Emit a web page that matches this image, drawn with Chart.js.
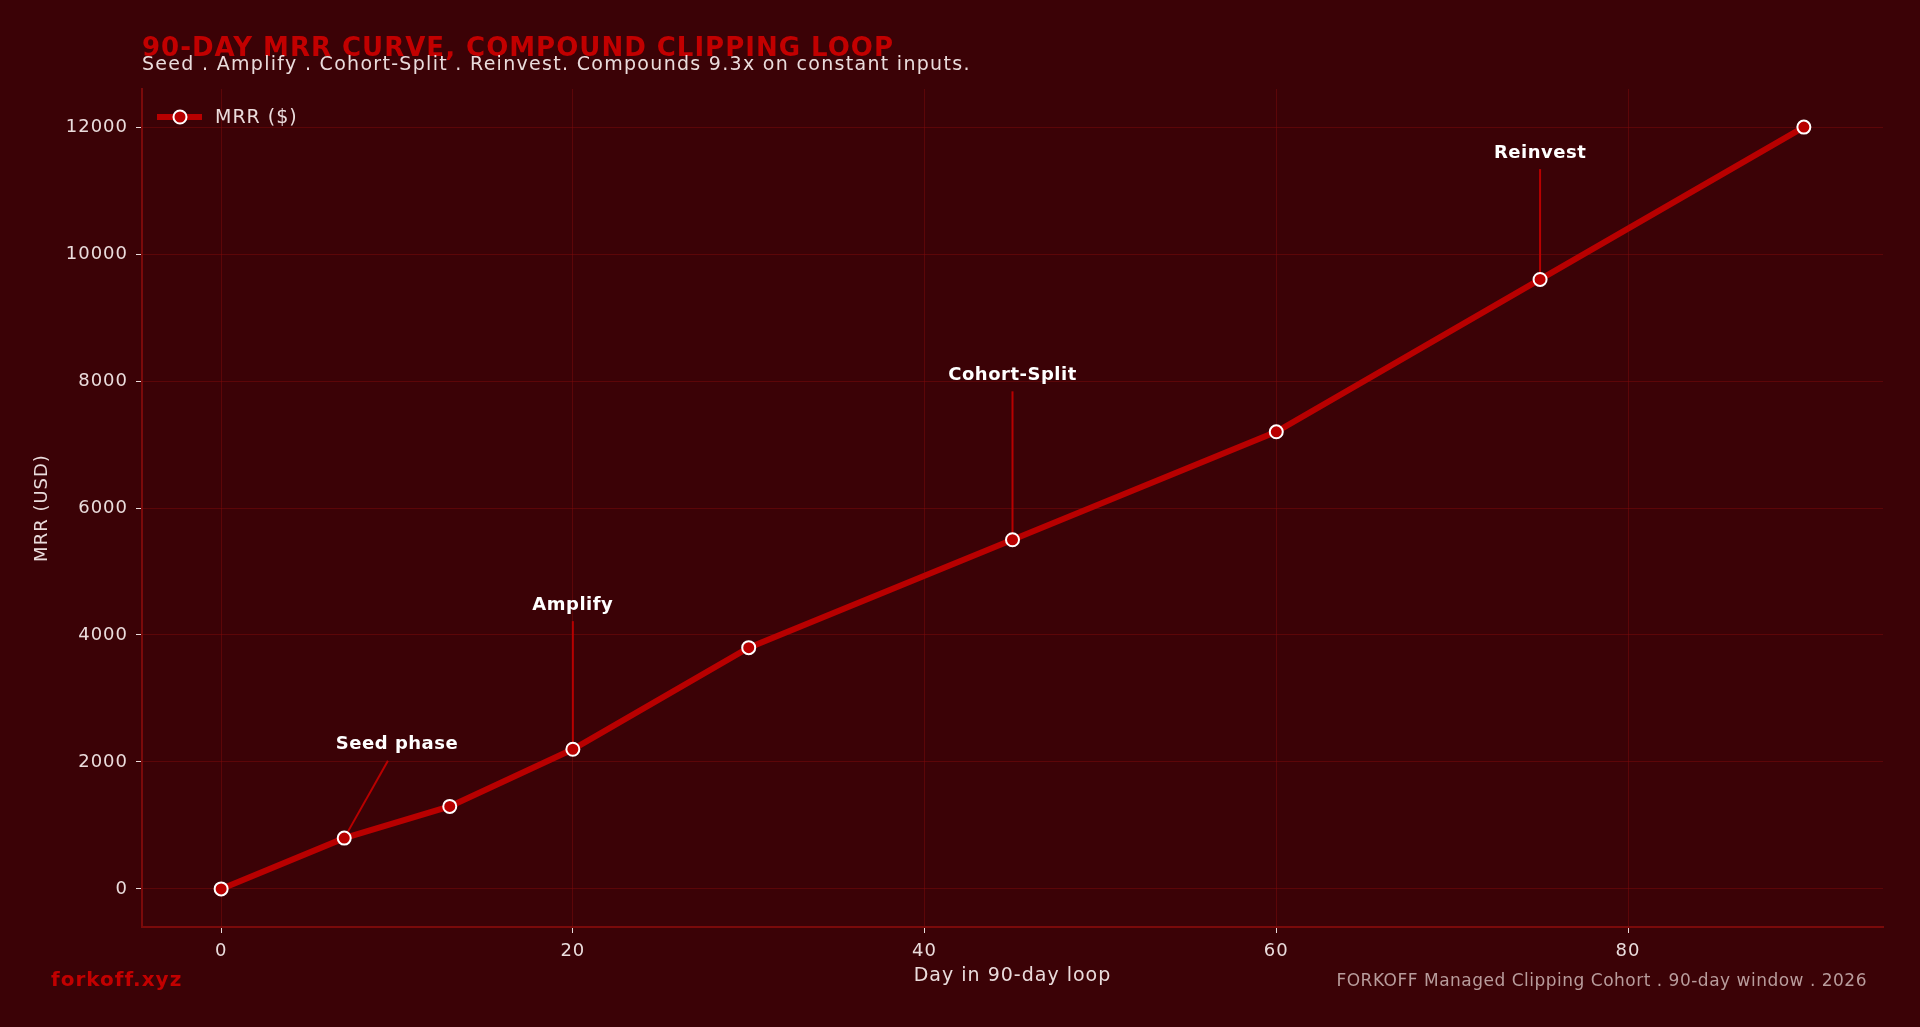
<!DOCTYPE html>
<html>
<head>
<meta charset="utf-8">
<script src="https://cdn.jsdelivr.net/npm/chart.js@4.4.1/dist/chart.umd.min.js"></script>
<style>
  html, body { margin: 0; padding: 0; background: #3b0206; }
  #wrap { width: 1920px; height: 1027px; position: relative; }
</style>
</head>
<body>
<div id="wrap"><canvas id="mrrChart"></canvas></div>
<script>
// Data
const days = [0, 7, 13, 20, 30, 45, 60, 75, 90];
const mrr = [0, 800, 1300, 2200, 3800, 5500, 7200, 9600, 12000];
const xTicks = [0, 20, 40, 60, 80];
const yTicks = [0, 2000, 4000, 6000, 8000, 10000, 12000];

// Callouts: point (x, y) and label centre (tx, ty), in data units
const calloutLabels = ['Seed phase', 'Amplify', 'Cohort-Split', 'Reinvest'];
const calloutX = [7, 20, 45, 75];
const calloutY = [800, 2200, 5500, 9600];
const calloutTx = [10, 20, 45, 75];
const calloutTy = [2270, 4470, 8090, 11590];

const BG = '#3b0206';
const RED = '#b80000';
const TEXT = '#eadcdc';
const FONT = "'DejaVu Sans', sans-serif";

const decorPlugin = {
  id: 'decor',
  beforeLayout(chart) {
    chart.ctx.letterSpacing = '1px';
  },
  beforeDraw(chart) {
    const ctx = chart.ctx;
    ctx.letterSpacing = '1px';
    ctx.save();
    ctx.fillStyle = BG;
    ctx.fillRect(0, 0, chart.width, chart.height);
    ctx.restore();
  },
  beforeDatasetsDraw(chart) {
    // leader lines for the callouts
    const ctx = chart.ctx;
    const xs = chart.scales.x, ys = chart.scales.y;
    ctx.save();
    ctx.strokeStyle = RED;
    ctx.lineWidth = 2;
    calloutLabels.forEach((lab, i) => {
      const px = xs.getPixelForValue(calloutX[i]);
      const py = ys.getPixelForValue(calloutY[i]);
      const tx = xs.getPixelForValue(calloutTx[i]);
      const ty = ys.getPixelForValue(calloutTy[i]);
      const dy = py - ty, dx = px - tx;
      const k = 16 / dy;
      ctx.beginPath();
      ctx.moveTo(tx + dx * k, ty + 16);
      ctx.lineTo(px, py);
      ctx.stroke();
    });
    ctx.restore();
  },
  afterDatasetsDraw(chart) {
    const ctx = chart.ctx;
    const xs = chart.scales.x, ys = chart.scales.y;
    ctx.save();
    // callout labels
    ctx.letterSpacing = '0.5px';
    ctx.font = 'bold 18px ' + FONT;
    ctx.fillStyle = '#ffffff';
    ctx.textAlign = 'center';
    ctx.textBaseline = 'middle';
    calloutLabels.forEach((lab, i) => {
      ctx.fillText(lab, xs.getPixelForValue(calloutTx[i]), ys.getPixelForValue(calloutTy[i]));
    });

    // legend inside plot, upper left
    ctx.strokeStyle = RED;
    ctx.lineWidth = 6;
    ctx.beginPath();
    ctx.moveTo(157, 117);
    ctx.lineTo(202, 117);
    ctx.stroke();
    ctx.beginPath();
    ctx.arc(180, 117, 6.5, 0, Math.PI * 2);
    ctx.fillStyle = RED;
    ctx.fill();
    ctx.lineWidth = 2;
    ctx.strokeStyle = '#ffffff';
    ctx.stroke();
    ctx.letterSpacing = '1px';
    ctx.font = '19px ' + FONT;
    ctx.fillStyle = TEXT;
    ctx.textAlign = 'left';
    ctx.fillText('MRR ($)', 215, 118);

    // title + subtitle
    ctx.textBaseline = 'alphabetic';
    ctx.font = 'bold 26px ' + FONT;
    ctx.fillStyle = '#c20000';
    ctx.fillText('90-DAY MRR CURVE, COMPOUND CLIPPING LOOP', 142, 56);
    ctx.letterSpacing = '1.3px';
    ctx.font = '19px ' + FONT;
    ctx.fillStyle = TEXT;
    ctx.fillText('Seed . Amplify . Cohort-Split . Reinvest. Compounds 9.3x on constant inputs.', 142, 70);

    // footer
    ctx.letterSpacing = '1px';
    ctx.textBaseline = 'middle';
    ctx.font = 'bold 20px ' + FONT;
    ctx.fillStyle = '#c20000';
    ctx.fillText('forkoff.xyz', 51, 981);
    ctx.letterSpacing = '0.5px';
    ctx.font = '17px ' + FONT;
    ctx.fillStyle = '#b89c9c';
    ctx.textAlign = 'right';
    ctx.fillText('FORKOFF Managed Clipping Cohort . 90-day window . 2026', 1867, 982);
    ctx.restore();
  }
};

const ctx = document.getElementById('mrrChart');
new Chart(ctx, {
  type: 'line',
  data: {
    datasets: [{
      label: 'MRR ($)',
      data: days.map((d, i) => ({ x: d, y: mrr[i] })),
      borderColor: RED,
      borderWidth: 6,
      backgroundColor: RED,
      pointBackgroundColor: RED,
      pointBorderColor: '#ffffff',
      pointBorderWidth: 2,
      pointRadius: 6.5,
      tension: 0,
      fill: false
    }]
  },
  options: {
    responsive: true,
    maintainAspectRatio: false,
    devicePixelRatio: 1,
    animation: false,
    layout: { padding: { top: 89, right: 37, bottom: 0, left: 0 } },
    plugins: {
      legend: { display: false },
      tooltip: { enabled: false }
    },
    scales: {
      x: {
        type: 'linear',
        min: -4.5,
        max: 94.5,
        afterFit(scale) { scale.height = 100; },
        afterBuildTicks(scale) { scale.ticks = xTicks.map(v => ({ value: v })); },
        ticks: {
          color: TEXT,
          font: { family: FONT, size: 18 },
          padding: 8
        },
        grid: {
          color: 'rgba(125, 10, 10, 0.5)',
          lineWidth: 1,
          tickColor: TEXT,
          tickLength: 6
        },
        border: { display: true, color: '#7a0a0a', width: 2 },
        title: {
          display: true,
          text: 'Day in 90-day loop',
          color: TEXT,
          font: { family: FONT, size: 19 },
          padding: { top: 0, bottom: 40 }
        }
      },
      y: {
        type: 'linear',
        min: -600,
        max: 12600,
        afterFit(scale) { scale.width = 142; },
        afterBuildTicks(scale) { scale.ticks = yTicks.map(v => ({ value: v })); },
        ticks: {
          color: TEXT,
          font: { family: FONT, size: 18 },
          padding: 8,
          callback: v => String(v)
        },
        grid: {
          color: 'rgba(125, 10, 10, 0.5)',
          lineWidth: 1,
          tickColor: TEXT,
          tickLength: 6
        },
        border: { display: true, color: '#7a0a0a', width: 2 },
        title: {
          display: true,
          text: 'MRR (USD)',
          color: TEXT,
          font: { family: FONT, size: 18 },
          padding: { top: 32, bottom: 0 }
        }
      }
    }
  },
  plugins: [decorPlugin]
});
</script>
</body>
</html>
